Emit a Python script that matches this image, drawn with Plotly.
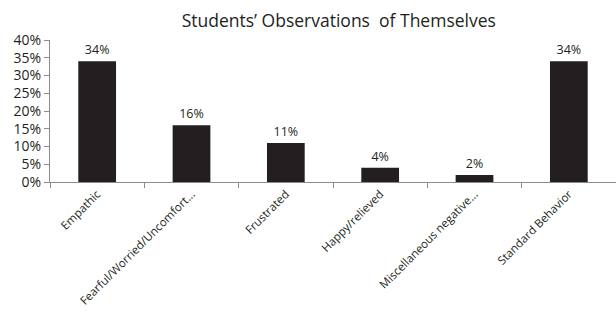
import plotly.graph_objects as go

categories = ["Empathic", "Fearful/Worried/Uncomfort...", "Frustrated",
              "Happy/relieved", "Miscellaneous negative...", "Standard Behavior"]
values = [0.34, 0.16, 0.11, 0.04, 0.02, 0.34]
value_labels = ["34%", "16%", "11%", "4%", "2%", "34%"]
y_ticks = [0, 0.05, 0.10, 0.15, 0.20, 0.25, 0.30, 0.35, 0.40]
y_tick_labels = ["0%", "5%", "10%", "15%", "20%", "25%", "30%", "35%", "40%"]

font_family = "Open Sans, Lato, sans-serif"

fig = go.Figure(go.Bar(
    x=categories,
    y=values,
    marker=dict(color="#231f20", line=dict(width=0)),
    text=value_labels,
    textposition="outside",
    textfont=dict(size=12.5, color="#231f20", family=font_family),
    cliponaxis=False,
))

fig.update_layout(
    width=616, height=324,
    margin=dict(l=50, r=0, t=40, b=142),
    paper_bgcolor="white", plot_bgcolor="white",
    bargap=0.6,
    showlegend=False,
    title=dict(text="Students\u2019 Observations\u00a0 of Themselves",
               x=0.55, xanchor="center", y=0.935, yanchor="middle",
               font=dict(size=17.5, color="#231f20", family=font_family)),
    font=dict(family=font_family, color="#231f20"),
)

fig.update_xaxes(
    showline=True, linecolor="#8c8c8c", linewidth=1,
    ticks="outside", tickson="boundaries", ticklen=5, tickcolor="#8c8c8c",
    tickangle=-45, tickfont=dict(size=11.5, color="#231f20"),
    showgrid=False, zeroline=False,
)

fig.update_yaxes(
    range=[0, 0.4], tickvals=y_ticks, ticktext=y_tick_labels,
    showline=True, linecolor="#8c8c8c", linewidth=1,
    ticks="outside", ticklen=5, tickcolor="#8c8c8c",
    tickfont=dict(size=14, color="#231f20"),
    showgrid=False, zeroline=False,
)

fig.write_html("out.html")
